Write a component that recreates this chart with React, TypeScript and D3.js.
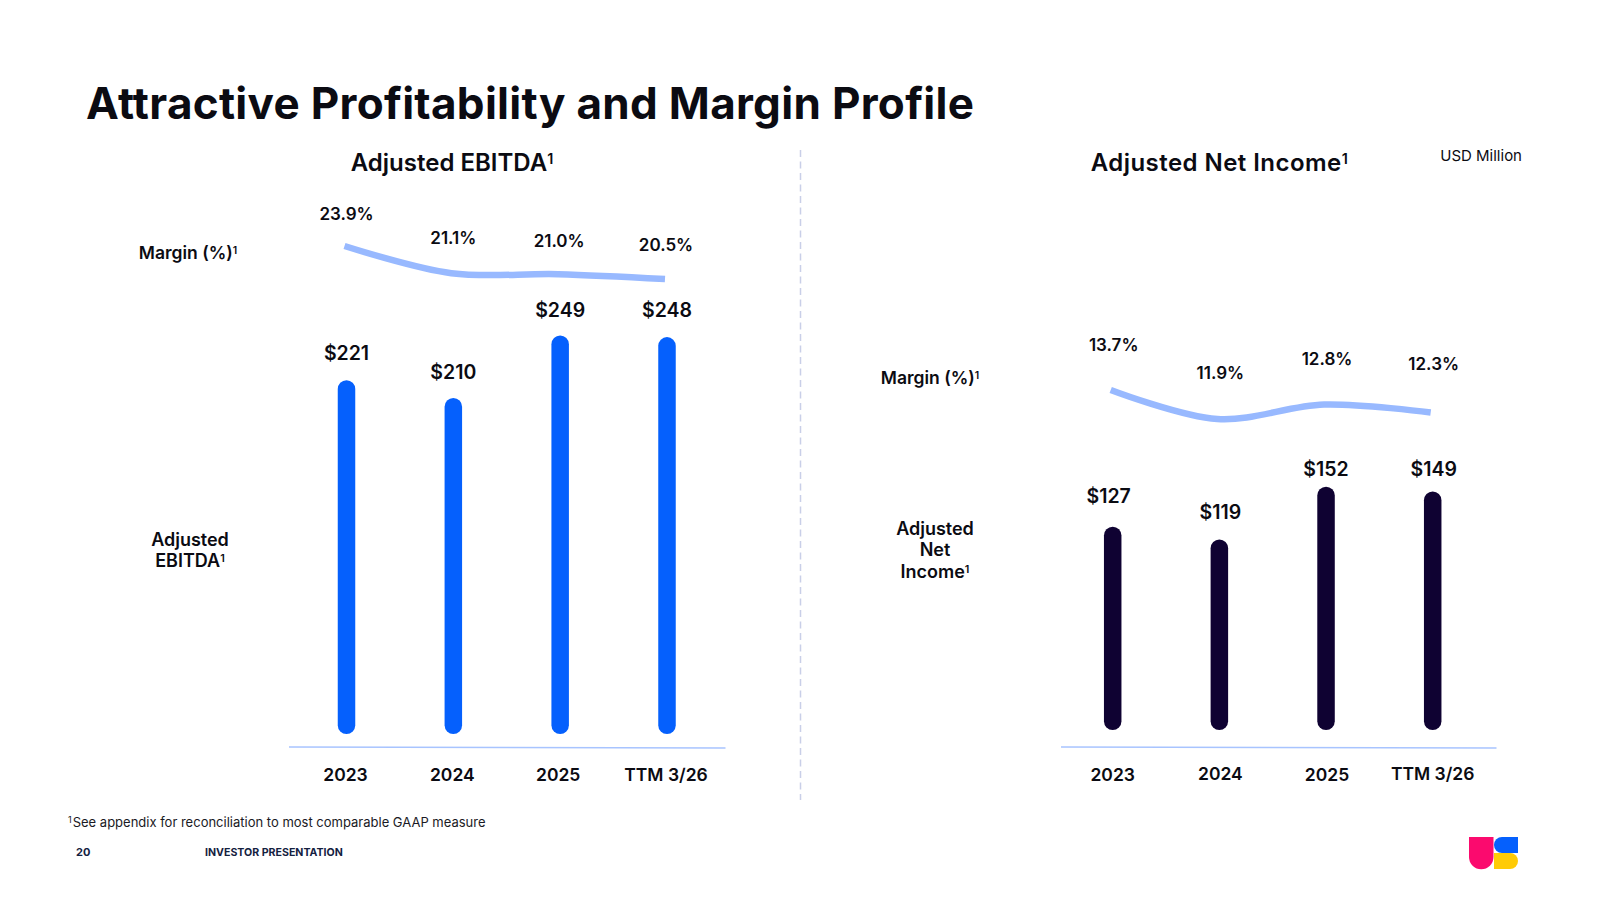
import * as d3 from 'd3'

const categories = ['2023', '2024', '2025', 'TTM 3/26']

const ebitda = [221, 210, 249, 248]
const ebitdaMargin = [23.9, 21.1, 21.0, 20.5]
const netIncome = [127, 119, 152, 149]
const netIncomeMargin = [13.7, 11.9, 12.8, 12.3]

const FONT = 'Inter, "Noto Sans", sans-serif'
const INK = '#0b0b12'
const BLUE = '#0560fd'
const NAVY = '#0f0232'
const LINE = '#98b9ff'
const AXIS = '#a8c4ff'

interface PanelProps {
  values: number[]
  margins: number[]
  color: string
  xRange: [number, number]
  yRange: [number, number]
  marginRange: [number, number]
  axisX: [number, number]
  barWidth: number
  // hand placement offsets, the slide labels are not aligned to anything
  valueDy: number[]
  valueDx: number[]
  marginDy: number[]
  marginDx: number[]
  catDx: number[]
  catY: number[]
}

function Panel({ values, margins, color, xRange, yRange, marginRange, axisX, barWidth, valueDy, valueDx, marginDy, marginDx, catDx, catY }: PanelProps) {
  const x = d3.scalePoint<string>().domain(categories).range(xRange)
  const y = d3.scaleLinear().domain([0, d3.max(values) as number]).range(yRange)
  const my = d3.scaleLinear().domain(d3.extent(margins) as [number, number]).range(marginRange)

  // margin line
  const line = d3.line<number>()
    .x((_, i) => (x(categories[i]) as number) - 2)
    .y(d => my(d))
    .curve(d3.curveCatmullRom.alpha(0.5))

  return (
    <g>
      <path d={line(margins) ?? ''} fill="none" stroke={LINE} strokeWidth={6.5} />
      {margins.map((m, i) => (
        <text
          key={categories[i]}
          x={(x(categories[i]) as number) + marginDx[i]}
          y={my(m) + marginDy[i]}
          dy=".35em"
          textAnchor="middle"
          fontSize={17}
          fontWeight={600}
          fill={INK}
        >
          {m.toFixed(1)}%
        </text>
      ))}

      {values.map((v, i) => (
        <rect
          key={categories[i]}
          x={(x(categories[i]) as number) - barWidth / 2}
          y={y(v)}
          width={barWidth}
          height={y(0) - y(v)}
          rx={barWidth / 2}
          fill={color}
        />
      ))}
      {values.map((v, i) => (
        <text
          key={categories[i]}
          x={(x(categories[i]) as number) + valueDx[i]}
          y={y(v) + valueDy[i]}
          dy=".35em"
          textAnchor="middle"
          fontSize={19.5}
          fontWeight={600}
          fill={INK}
        >
          ${v}
        </text>
      ))}

      <line x1={axisX[0]} x2={axisX[1]} y1={747} y2={748} stroke={AXIS} strokeWidth={1.6} />
      {categories.map((c, i) => (
        <text
          key={c}
          x={(x(c) as number) + catDx[i]}
          y={catY[i]}
          dy=".35em"
          textAnchor="middle"
          fontSize={17.5}
          fontWeight={600}
          fill={INK}
        >
          {c}
        </text>
      ))}
    </g>
  )
}

function Sup() {
  return <tspan dy="-0.5em" fontSize="0.6em">1</tspan>
}

export default function App() {
  return (
    <svg
      width={1600}
      height={900}
      viewBox="0 0 1600 900"
      style={{ position: 'absolute', left: 0, top: 0, background: '#fff' }}
      fontFamily={FONT}
    >
      <text x={86} y={119} fontSize={44} fontWeight={700} fill={INK} textLength={888}>
        Attractive Profitability and Margin Profile
      </text>

      <text x={452} y={171} textAnchor="middle" fontSize={24} fontWeight={600} fill={INK}>
        Adjusted EBITDA<Sup />
      </text>
      <text x={1219.5} y={171} textAnchor="middle" fontSize={24} fontWeight={600} fill={INK} letterSpacing={0.45}>
        Adjusted Net Income<Sup />
      </text>
      <text x={1522} y={160.5} textAnchor="end" fontSize={15} fontWeight={400} fill={INK}>
        USD Million
      </text>

      <line x1={800.5} x2={800.5} y1={150} y2={800} stroke="#c9cfe8" strokeWidth={1.5} strokeDasharray="7 4.5" />

      <text x={188} y={259} textAnchor="middle" fontSize={17.5} fontWeight={600} fill={INK}>
        Margin (%)<Sup />
      </text>
      <text textAnchor="middle" fontSize={18} fontWeight={600} fill={INK}>
        <tspan x={190} y={546}>Adjusted</tspan>
        <tspan x={190} y={567}>EBITDA<Sup /></tspan>
      </text>
      <text x={930} y={384} textAnchor="middle" fontSize={17.5} fontWeight={600} fill={INK}>
        Margin (%)<Sup />
      </text>
      <text textAnchor="middle" fontSize={18} fontWeight={600} fill={INK}>
        <tspan x={935} y={535}>Adjusted</tspan>
        <tspan x={935} y={556}>Net</tspan>
        <tspan x={935} y={578}>Income<Sup /></tspan>
      </text>

      <Panel
        values={ebitda}
        margins={ebitdaMargin}
        color={BLUE}
        xRange={[346.5, 667]}
        yRange={[734, 335.5]}
        marginRange={[279, 246]}
        axisX={[289, 725.5]}
        barWidth={17.5}
        valueDy={[-27, -26, -25, -27]}
        valueDx={[0, 0, 0, 0]}
        marginDy={[-32, -35, -33, -34]}
        marginDx={[0, 0, -1, -1]}
        catDx={[-1, -1, -2, -1]}
        catY={[775, 775, 775, 775]}
      />
      <Panel
        values={netIncome}
        margins={netIncomeMargin}
        color={NAVY}
        xRange={[1112.7, 1432.7]}
        yRange={[730, 486.7]}
        marginRange={[419, 390]}
        axisX={[1061, 1496.5]}
        barWidth={17.5}
        valueDy={[-31, -27, -18, -22]}
        valueDx={[-4, 1, 0, 1]}
        marginDy={[-45, -46, -45.5, -48.5]}
        marginDx={[1, 1, 1, 1]}
        catDx={[0, 1, 1, 0]}
        catY={[775, 774, 775, 774]}
      />

      <text x={68} y={827} fontSize={13} fill="#1a1a24">
        <tspan dy="-4" fontSize={9}>1</tspan><tspan dy="4" dx="1">See appendix for reconciliation to most comparable GAAP measure</tspan>
      </text>
      <text x={76} y={856} fontSize={11} fontWeight={700} fill="#14213f">20</text>
      <text x={205} y={856} fontSize={10.6} fontWeight={700} fill="#14213f">INVESTOR PRESENTATION</text>

      <g>
        <path d="M1469 837H1493.5V857A12.25 12.25 0 0 1 1469 857Z" fill="#fb0a6e" />
        <path d="M1518 837V853H1502A8 8 0 0 1 1502 837Z" fill="#0560fd" />
        <path d="M1494 853H1510A8 8 0 0 1 1510 869H1494Z" fill="#ffcb05" />
      </g>
    </svg>
  )
}
